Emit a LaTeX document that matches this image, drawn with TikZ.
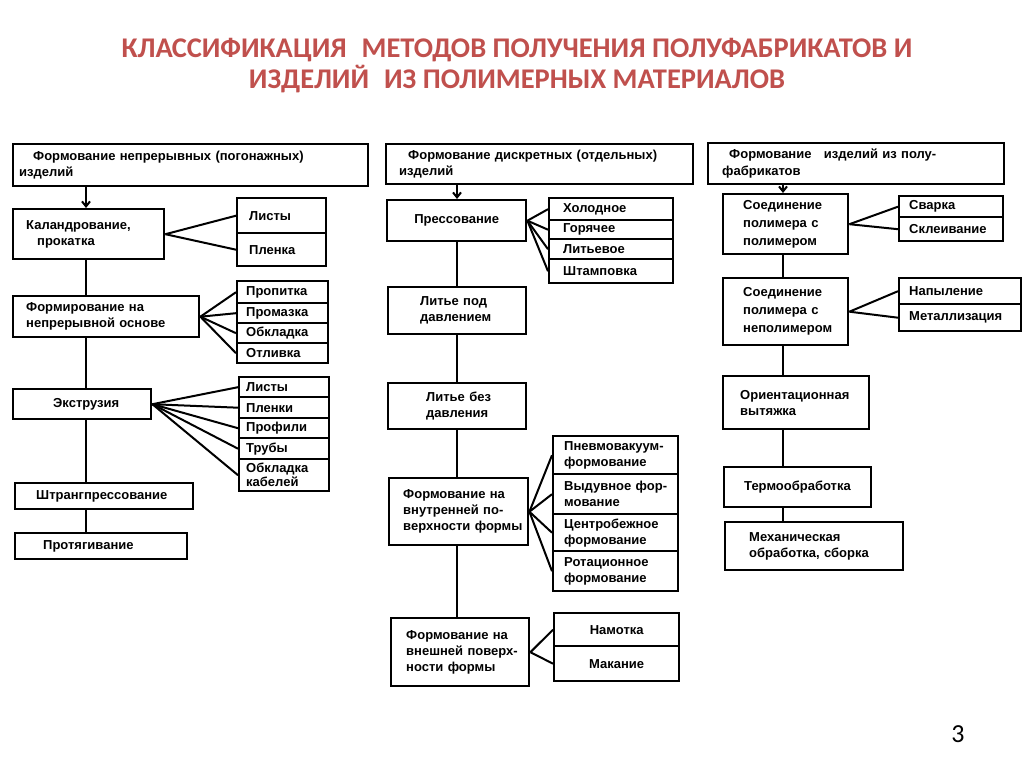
\documentclass[tikz,border=0pt]{standalone}
\usepackage{fontspec}
\setmainfont{Liberation Sans}
\newfontfamily\titlefont{Carlito}
\usetikzlibrary{arrows.meta}
\definecolor{titlered}{RGB}{192,80,77}
\begin{document}
\begin{tikzpicture}[x=1pt,y=-1pt,
  box/.style={draw=black, line width=2.4pt, anchor=north west, inner xsep=0pt, inner ysep=0pt,
    font=\bfseries\fontsize{13}{16}\selectfont, align=left},
  bx/.style 2 args={minimum width=#1pt, text width=#1pt, minimum height=#2pt},
  tight/.style={font=\bfseries\fontsize{13}{14}\selectfont},
  loose/.style={font=\bfseries\fontsize{13}{18}\selectfont},
  head/.style={font=\bfseries\fontsize{13}{16.5}\selectfont},
  link/.style={line width=2pt},
  down/.style={line width=2pt, -{Straight Barb[length=5pt,width=8pt]}},
  titletext/.style={text=titlered, font=\titlefont\bfseries\fontsize{28.5}{31}\selectfont, align=center}]
\useasboundingbox (0,0) rectangle (1024,767);
\fill[white] (0,0) rectangle (1024,767);

% title
\node[titletext] (title) at (517,66) {КЛАССИФИКАЦИЯ\hspace{0.3em} МЕТОДОВ ПОЛУЧЕНИЯ ПОЛУФАБРИКАТОВ И\\ИЗДЕЛИЙ\hspace{0.3em} ИЗ ПОЛИМЕРНЫХ МАТЕРИАЛОВ};
\node[font=\titlefont\fontsize{26}{26}\selectfont] (page) at (958,734) {3};

% trunks
\coordinate (Lt) at (86,0);
\coordinate (Mt) at (457,0);
\coordinate (Rt) at (783,0);

% ---------- left column ----------
\node[box,head,bx={355}{42}] (L0) at (12,143) {\hspace*{20pt}Формование непрерывных (погонажных)\\\hspace*{6pt}изделий};
\node[box,bx={151}{50}] (L1) at (12,208) {\hspace*{13pt}Каландрование,\\\hspace*{24pt}прокатка};
\node[box,bx={89}{35}] (L1a) at (236,197) {\hspace*{12pt}Листы};
\node[box,bx={89}{33}] (L1b) at (236,232) {\hspace*{12pt}Пленка};
\node[box,bx={186}{41}] (L2) at (12,295) {\hspace*{13pt}Формирование на\\\hspace*{13pt}непрерывной основе};
\node[box,bx={91}{22}] (L2a) at (236,280) {\hspace*{9pt}Пропитка};
\node[box,bx={91}{20}] (L2b) at (236,302) {\hspace*{9pt}Промазка};
\node[box,bx={91}{20}] (L2c) at (236,322) {\hspace*{9pt}Обкладка};
\node[box,bx={91}{20}] (L2d) at (236,342) {\hspace*{9pt}Отливка};
\node[box,bx={138}{30}] (L3) at (12,388) {\hspace*{40pt}Экструзия};
\node[box,bx={90}{20}] (L3a) at (238,376) {\hspace*{7pt}Листы};
\node[box,bx={90}{21}] (L3b) at (238,396) {\hspace*{7pt}Пленки};
\node[box,bx={90}{20}] (L3c) at (238,417) {\hspace*{7pt}Профили};
\node[box,bx={90}{21}] (L3d) at (238,437) {\hspace*{7pt}Трубы};
\node[box,tight,bx={90}{32}] (L3e) at (238,458) {\hspace*{7pt}Обкладка\\\hspace*{7pt}кабелей};
\node[box,bx={178}{26}] (L4) at (14,482) {\hspace*{21pt}Штрангпрессование};
\node[box,bx={172}{26}] (L5) at (14,532) {\hspace*{28pt}Протягивание};

\draw[down] (L0.south -| Lt) -- (L1.north -| Lt);
\draw[link] (L1.south -| Lt) -- (L2.north -| Lt);
\draw[link] (L2.south -| Lt) -- (L3.north -| Lt);
\draw[link] (L3.south -| Lt) -- (L4.north -| Lt);
\draw[link] (L4.south -| Lt) -- (L5.north -| Lt);
\foreach \c in {L1a,L1b} \draw[link] (L1.east) -- (\c.west);
\foreach \c in {L2a,L2b,L2c,L2d} \draw[link] (L2.east) -- (\c.west);
\foreach \c in {L3a,L3b,L3c,L3d,L3e} \draw[link] (L3.east) -- (\c.west);

% ---------- middle column ----------
\node[box,head,bx={307}{40}] (M0) at (385,143) {\hspace*{22pt}Формование дискретных (отдельных)\\\hspace*{13pt}изделий};
\node[box,bx={139}{41},align=center] (M1) at (386,199) {Прессование};
\node[box,bx={124}{22}] (M1a) at (548,197) {\hspace*{14pt}Холодное};
\node[box,bx={124}{19}] (M1b) at (548,219) {\hspace*{14pt}Горячее};
\node[box,bx={124}{20}] (M1c) at (548,238) {\hspace*{14pt}Литьевое};
\node[box,bx={124}{24}] (M1d) at (548,258) {\hspace*{14pt}Штамповка};
\node[box,bx={138}{47}] (M2) at (387,286) {\hspace*{32pt}Литье под\\\hspace*{32pt}давлением};
\node[box,bx={138}{46}] (M3) at (387,382) {\hspace*{38pt}Литье без\\\hspace*{38pt}давления};
\node[box,bx={139}{67}] (M4) at (388,477) {\hspace*{14pt}Формование на\\\hspace*{14pt}внутренней по-\\\hspace*{14pt}верхности формы};
\node[box,bx={125}{38}] (M4a) at (552,435) {\hspace*{11pt}Пневмовакуум-\\\hspace*{11pt}формование};
\node[box,bx={125}{40}] (M4b) at (552,473) {\hspace*{11pt}Выдувное фор-\\\hspace*{11pt}мование};
\node[box,bx={125}{37}] (M4c) at (552,513) {\hspace*{11pt}Центробежное\\\hspace*{11pt}формование};
\node[box,bx={125}{40}] (M4d) at (552,550) {\hspace*{11pt}Ротационное\\\hspace*{11pt}формование};
\node[box,bx={138}{68}] (M5) at (390,617) {\hspace*{15pt}Формование на\\\hspace*{15pt}внешней поверх-\\\hspace*{15pt}ности формы};
\node[box,bx={125}{33},align=center] (M5a) at (553,612) {Намотка};
\node[box,bx={125}{35},align=center] (M5b) at (553,645) {Макание};

\draw[down] (M0.south -| Mt) -- (M1.north -| Mt);
\draw[link] (M1.south -| Mt) -- (M2.north -| Mt);
\draw[link] (M2.south -| Mt) -- (M3.north -| Mt);
\draw[link] (M3.south -| Mt) -- (M4.north -| Mt);
\draw[link] (M4.south -| Mt) -- (M5.north -| Mt);
\foreach \c in {M1a,M1b,M1c,M1d} \draw[link] (M1.east) -- (\c.west);
\foreach \c in {M4a,M4b,M4c,M4d} \draw[link] (M4.east) -- (\c.west);
\foreach \c in {M5a,M5b} \draw[link] (M5.east) -- (\c.west);

% ---------- right column ----------
\node[box,head,bx={296}{41}] (R0) at (707,142) {\hspace*{21pt}Формование\hspace{8pt} изделий из полу-\\\hspace*{14pt}фабрикатов};
\node[box,loose,bx={125}{60}] (R1) at (722,193) {\hspace*{20pt}Соединение\\\hspace*{20pt}полимера с\\\hspace*{20pt}полимером};
\node[box,bx={104}{21}] (R1a) at (898,195) {\hspace*{10pt}Сварка};
\node[box,bx={104}{24}] (R1b) at (898,216) {\hspace*{10pt}Склеивание};
\node[box,loose,bx={125}{67}] (R2) at (722,277) {\hspace*{20pt}Соединение\\\hspace*{20pt}полимера с\\\hspace*{20pt}неполимером};
\node[box,bx={122}{26}] (R2a) at (898,277) {\hspace*{10pt}Напыление};
\node[box,bx={122}{27}] (R2b) at (898,303) {\hspace*{10pt}Металлизация};
\node[box,bx={146}{53}] (R3) at (722,375) {\hspace*{17pt}Ориентационная\\\hspace*{17pt}вытяжка};
\node[box,bx={147}{40}] (R4) at (723,466) {\hspace*{20pt}Термообработка};
\node[box,bx={178}{48}] (R5) at (724,521) {\hspace*{24pt}Механическая\\\hspace*{24pt}обработка, сборка};

\draw[down] (R0.south -| Rt) -- (R1.north -| Rt);
\draw[link] (R1.south -| Rt) -- (R2.north -| Rt);
\draw[link] (R2.south -| Rt) -- (R3.north -| Rt);
\draw[link] (R3.south -| Rt) -- (R4.north -| Rt);
\draw[link] (R4.south -| Rt) -- (R5.north -| Rt);
\foreach \c in {R1a,R1b} \draw[link] (R1.east) -- (\c.west);
\foreach \c in {R2a,R2b} \draw[link] (R2.east) -- (\c.west);
\end{tikzpicture}
\end{document}
